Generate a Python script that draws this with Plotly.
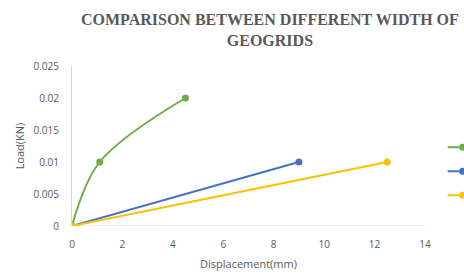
import plotly.graph_objects as go

series_names = ["Width 1", "Width 2", "Width 3"]
green_x = [0, 1.1, 4.5]
green_y = [0, 0.01, 0.02]
blue_x = [0, 9]
blue_y = [0, 0.01]
yellow_x = [0, 12.5]
yellow_y = [0, 0.01]
x_ticks = [0, 2, 4, 6, 8, 10, 12, 14]
y_ticks = [0, 0.005, 0.01, 0.015, 0.02, 0.025]
y_tick_labels = ["0", "0.005", "0.01", "0.015", "0.02", "0.025"]

colors = ["#70AD47", "#4472C4", "#FFC000"]
data = [(green_x, green_y, "spline"), (blue_x, blue_y, "linear"), (yellow_x, yellow_y, "linear")]

fig = go.Figure()
for i, (xs, ys, shape) in enumerate(data):
    fig.add_trace(go.Scatter(
        x=xs, y=ys, mode="lines+markers", name=series_names[i],
        line=dict(color=colors[i], width=2, shape=shape, smoothing=1.0),
        marker=dict(color=colors[i], size=7),
        legendgroup=str(i),
    ))

grey = "#595959"
fig.update_layout(
    width=464, height=275,
    margin=dict(l=72, r=39, t=66, b=49, autoexpand=False),
    paper_bgcolor="white", plot_bgcolor="white",
    font=dict(family="Open Sans", size=10, color=grey),
    showlegend=True,
    legend=dict(x=1.05, xanchor="left", y=0.583, yanchor="top",
                traceorder="grouped", tracegroupgap=5,
                font=dict(size=11, color=grey), bgcolor="rgba(0,0,0,0)"),
    xaxis=dict(range=[0, 14], tickvals=x_ticks, showgrid=False, zeroline=False,
               showline=False, ticks="", ticklabelstandoff=11,
               tickfont=dict(size=10, color=grey),
               title=dict(text="Displacement(mm)", font=dict(size=11, color=grey), standoff=10)),
    yaxis=dict(range=[0, 0.025], tickvals=y_ticks, ticktext=y_tick_labels, showgrid=False,
               zeroline=False, showline=True, linecolor="#D9D9D9", linewidth=1, ticks="",
               ticklabelstandoff=10, tickfont=dict(size=10, color=grey),
               title=dict(text="Load(KN)", font=dict(size=11, color=grey), standoff=6)),
)
fig.add_annotation(
    text="COMPARISON BETWEEN DIFFERENT WIDTH OF<br>GEOGRIDS",
    xref="paper", yref="paper", x=(269.5 - 72) / 353, y=(226 - 9) / 160,
    xanchor="center", yanchor="top", showarrow=False,
    font=dict(family="Liberation Serif", size=16, color=grey, weight="bold"),
)
fig.add_shape(type="line", xref="x", yref="y", x0=0, x1=14, y0=0, y1=0,
              line=dict(color="#D9D9D9", width=1), layer="below")

fig.write_html("out.html", config={"displayModeBar": False},
               post_script="document.body.style.margin='0';")
